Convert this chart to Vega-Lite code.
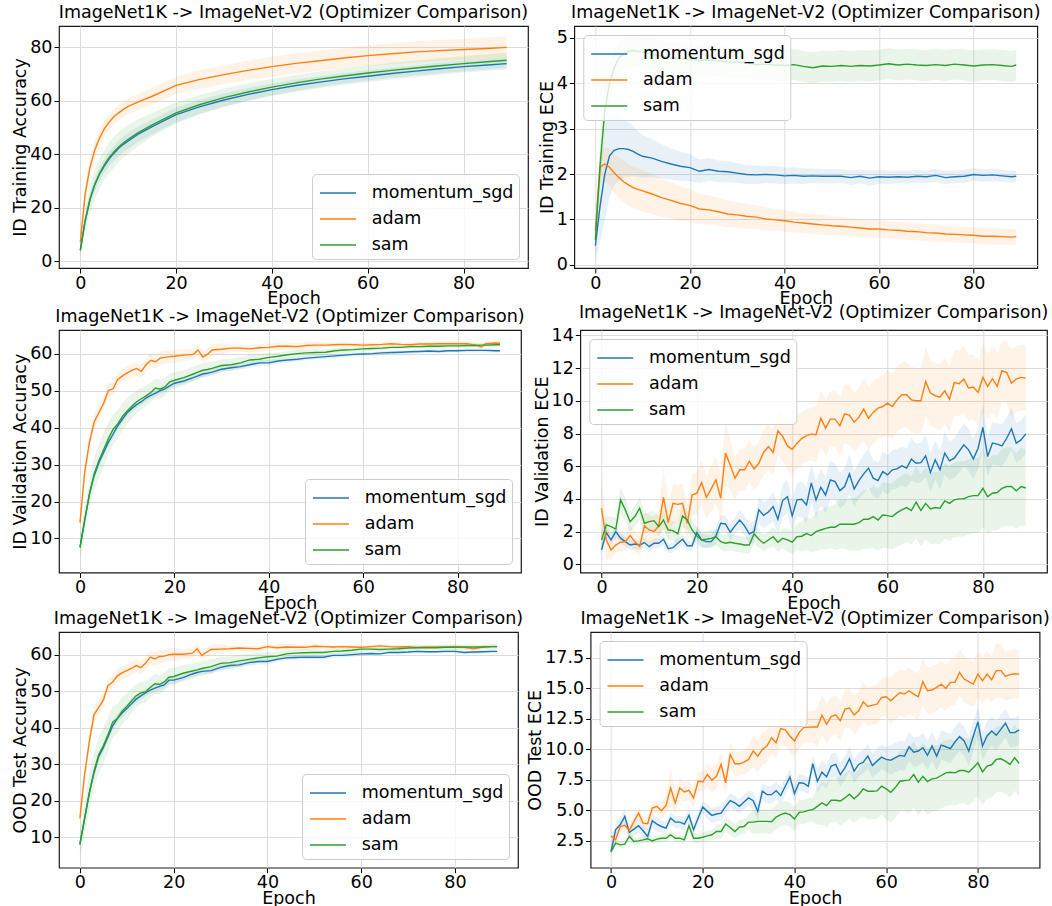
{
"$schema":"https://vega.github.io/schema/vega-lite/v6.json",
"background":"white",
"padding":{"left":11,"top":2,"right":0,"bottom":0},
"config":{
"font":"DejaVu Sans",
"view":{"stroke":"#1a1a1a","strokeWidth":1.2},
"axis":{"domain":false,"grid":true,"gridColor":"#dddddd","gridWidth":1,"tickColor":"#000","tickSize":5,"tickWidth":1,"labelFontSize":17.5,"labelColor":"#000","labelFont":"DejaVu Sans","titleFont":"DejaVu Sans","titleFontSize":17.5,"titleFontWeight":"normal","titleColor":"#000","titlePadding":0,"labelPadding":2,"labelOverlap":false},
"axisX":{"labelPadding":1,"labelFlush":false,"titlePadding":-2},
"axisY":{"labelFlush":false},
"title":{"fontSize":17.5,"fontWeight":"normal","font":"DejaVu Sans","color":"#000","offset":5,"frame":"group"},
"legend":{"labelFontSize":17.5,"labelFont":"DejaVu Sans","labelColor":"#000","labelLimit":400,"symbolType":"M-0.85,0H1.92","symbolSize":676,"symbolStrokeWidth":1.5,"labelOffset":26.7,"rowPadding":3,"padding":5,"fillColor":"rgba(255,255,255,0.8)","strokeColor":"#cccccc","cornerRadius":4,"offset":9},
"line":{"strokeWidth":1.4,"clip":true},
"area":{"opacity":0.1,"clip":true}
},
"datasets":{
"d1":[
{"e":0,"m":4,"m0":3,"m1":5,"a":7,"a0":5,"a1":9,"s":4,"s0":2,"s1":6},
{"e":1,"m":15,"m0":13,"m1":17,"a":25,"a0":22,"a1":28,"s":15,"s0":11,"s1":19},
{"e":2,"m":23,"m0":20.5,"m1":25.5,"a":35,"a0":32,"a1":38,"s":23,"s0":18,"s1":28},
{"e":3,"m":28.5,"m0":26,"m1":31,"a":41.5,"a0":38,"a1":45,"s":28.7,"s0":23,"s1":34},
{"e":4,"m":32.5,"m0":30,"m1":35,"a":46,"a0":43,"a1":49,"s":32.8,"s0":27,"s1":38.5},
{"e":5,"m":35.5,"m0":33,"m1":38,"a":49.5,"a0":46.5,"a1":52.5,"s":36,"s0":30.5,"s1":41.5},
{"e":6,"m":38.2,"m0":35.5,"m1":41,"a":52,"a0":49,"a1":55,"s":38.7,"s0":33,"s1":44.5},
{"e":7,"m":40.3,"m0":37.5,"m1":43,"a":54,"a0":51,"a1":57,"s":40.8,"s0":35,"s1":46.5},
{"e":8,"m":42.2,"m0":39.3,"m1":45,"a":55.5,"a0":52.5,"a1":58.5,"s":42.7,"s0":37,"s1":48.4},
{"e":9,"m":43.7,"m0":40.8,"m1":46.6,"a":56.8,"a0":53.8,"a1":59.8,"s":44.3,"s0":38.8,"s1":49.8},
{"e":10,"m":45,"m0":42,"m1":48,"a":57.9,"a0":55,"a1":61,"s":45.6,"s0":40.2,"s1":51},
{"e":12,"m":47.4,"m0":44.5,"m1":50.3,"a":59.5,"a0":56.5,"a1":62.5,"s":48,"s0":43,"s1":53},
{"e":15,"m":50.3,"m0":47.5,"m1":53,"a":61.7,"a0":58.5,"a1":65,"s":51,"s0":46.5,"s1":55.5},
{"e":20,"m":54.8,"m0":52,"m1":57.5,"a":65.8,"a0":62.5,"a1":69,"s":55.5,"s0":51.5,"s1":59.5},
{"e":25,"m":57.8,"m0":55.2,"m1":60.4,"a":68,"a0":64.5,"a1":71.5,"s":58.6,"s0":55,"s1":62.2},
{"e":30,"m":60.3,"m0":57.8,"m1":62.8,"a":69.8,"a0":66.3,"a1":73.3,"s":61.2,"s0":57.8,"s1":64.6},
{"e":35,"m":62.4,"m0":60,"m1":64.8,"a":71.4,"a0":67.8,"a1":75,"s":63.3,"s0":60,"s1":66.6},
{"e":40,"m":64.2,"m0":61.9,"m1":66.5,"a":72.8,"a0":69,"a1":76.5,"s":65.1,"s0":62,"s1":68.2},
{"e":45,"m":65.7,"m0":63.4,"m1":68,"a":74,"a0":70.2,"a1":77.8,"s":66.7,"s0":63.7,"s1":69.7},
{"e":50,"m":67,"m0":64.8,"m1":69.2,"a":75,"a0":71.2,"a1":78.8,"s":68.1,"s0":65.2,"s1":71},
{"e":55,"m":68.2,"m0":66,"m1":70.4,"a":76,"a0":72.2,"a1":79.8,"s":69.3,"s0":66.5,"s1":72.1},
{"e":60,"m":69.2,"m0":67,"m1":71.4,"a":76.9,"a0":73,"a1":80.8,"s":70.4,"s0":67.6,"s1":73.2},
{"e":65,"m":70.2,"m0":68,"m1":72.4,"a":77.6,"a0":73.7,"a1":81.5,"s":71.4,"s0":68.6,"s1":74.2},
{"e":70,"m":71.1,"m0":68.9,"m1":73.3,"a":78.3,"a0":74.3,"a1":82.3,"s":72.3,"s0":69.5,"s1":75.1},
{"e":75,"m":72,"m0":69.8,"m1":74.2,"a":78.8,"a0":74.8,"a1":82.8,"s":73.1,"s0":70.3,"s1":75.9},
{"e":80,"m":72.8,"m0":70.6,"m1":75,"a":79.2,"a0":75.2,"a1":83.2,"s":73.9,"s0":71.1,"s1":76.7},
{"e":85,"m":73.4,"m0":71.2,"m1":75.6,"a":79.6,"a0":75.6,"a1":83.6,"s":74.6,"s0":71.8,"s1":77.4},
{"e":89,"m":73.9,"m0":71.7,"m1":76.1,"a":80,"a0":76,"a1":84,"s":75.2,"s0":72.4,"s1":78}
],
"d2":[
{"e":0,"m":0.42,"m0":0.12,"m1":0.72,"a":0.75,"a0":0.5,"a1":1.0,"s":0.55,"s0":0.3,"s1":0.8},
{"e":1,"m":1.3,"m0":0.5,"m1":2.1,"a":2.15,"a0":1.8,"a1":2.5,"s":2.2,"s0":1.7,"s1":2.7},
{"e":2,"m":2.0,"m0":1.0,"m1":3.0,"a":2.22,"a0":1.85,"a1":2.6,"s":3.4,"s0":2.9,"s1":3.9},
{"e":3,"m":2.4,"m0":1.5,"m1":3.3,"a":2.15,"a0":1.75,"a1":2.55,"s":4.0,"s0":3.55,"s1":4.45},
{"e":4,"m":2.52,"m0":1.75,"m1":3.3,"a":2.02,"a0":1.6,"a1":2.45,"s":4.35,"s0":3.95,"s1":4.75},
{"e":5,"m":2.56,"m0":1.86,"m1":3.26,"a":1.92,"a0":1.47,"a1":2.37,"s":4.55,"s0":4.17,"s1":4.93},
{"e":6,"m":2.56,"m0":1.92,"m1":3.2,"a":1.83,"a0":1.37,"a1":2.29,"s":4.65,"s0":4.3,"s1":5.0},
{"e":7,"m":2.54,"m0":1.94,"m1":3.14,"a":1.76,"a0":1.3,"a1":2.22,"s":4.7,"s0":4.36,"s1":5.04},
{"e":8,"m":2.5,"m0":1.95,"m1":3.05,"a":1.7,"a0":1.24,"a1":2.16,"s":4.72,"s0":4.38,"s1":5.06},
{"e":9,"m":2.44,"m0":1.94,"m1":2.94,"a":1.66,"a0":1.2,"a1":2.12,"s":4.7,"s0":4.36,"s1":5.04},
{"e":10,"m":2.39,"m0":1.92,"m1":2.86,"a":1.63,"a0":1.17,"a1":2.09,"s":4.68,"s0":4.34,"s1":5.02},
{"e":12,"m":2.35,"m0":1.93,"m1":2.77,"a":1.56,"a0":1.12,"a1":2.0,"s":4.64,"s0":4.3,"s1":4.98},
{"e":14,"m":2.28,"m0":1.9,"m1":2.66,"a":1.48,"a0":1.06,"a1":1.9,"s":4.6,"s0":4.26,"s1":4.94},
{"e":16,"m":2.22,"m0":1.88,"m1":2.56,"a":1.42,"a0":1.02,"a1":1.82,"s":4.56,"s0":4.22,"s1":4.9},
{"e":18,"m":2.17,"m0":1.85,"m1":2.49,"a":1.35,"a0":0.97,"a1":1.73,"s":4.54,"s0":4.2,"s1":4.88},
{"e":20,"m":2.14,"m0":1.84,"m1":2.44,"a":1.31,"a0":0.95,"a1":1.67,"s":4.52,"s0":4.18,"s1":4.86},
{"e":22,"m":2.06,"m0":1.8,"m1":2.32,"a":1.23,"a0":0.9,"a1":1.56,"s":4.5,"s0":4.16,"s1":4.84},
{"e":24,"m":2.1,"m0":1.85,"m1":2.35,"a":1.21,"a0":0.89,"a1":1.53,"s":4.51,"s0":4.17,"s1":4.85},
{"e":26,"m":2.06,"m0":1.82,"m1":2.3,"a":1.17,"a0":0.86,"a1":1.48,"s":4.49,"s0":4.15,"s1":4.83},
{"e":28,"m":2.05,"m0":1.82,"m1":2.28,"a":1.12,"a0":0.83,"a1":1.41,"s":4.47,"s0":4.13,"s1":4.81},
{"e":30,"m":2.02,"m0":1.8,"m1":2.24,"a":1.1,"a0":0.82,"a1":1.38,"s":4.46,"s0":4.12,"s1":4.8},
{"e":32,"m":1.99,"m0":1.78,"m1":2.2,"a":1.07,"a0":0.8,"a1":1.34,"s":4.45,"s0":4.11,"s1":4.79},
{"e":34,"m":1.98,"m0":1.78,"m1":2.18,"a":1.05,"a0":0.79,"a1":1.31,"s":4.41,"s0":4.07,"s1":4.75},
{"e":36,"m":1.99,"m0":1.8,"m1":2.18,"a":1.01,"a0":0.76,"a1":1.26,"s":4.42,"s0":4.08,"s1":4.76},
{"e":38,"m":1.98,"m0":1.79,"m1":2.17,"a":0.99,"a0":0.75,"a1":1.23,"s":4.4,"s0":4.06,"s1":4.74},
{"e":40,"m":1.96,"m0":1.78,"m1":2.14,"a":0.97,"a0":0.73,"a1":1.21,"s":4.39,"s0":4.05,"s1":4.73},
{"e":42,"m":1.97,"m0":1.79,"m1":2.15,"a":0.94,"a0":0.71,"a1":1.17,"s":4.41,"s0":4.07,"s1":4.75},
{"e":44,"m":1.95,"m0":1.78,"m1":2.12,"a":0.92,"a0":0.7,"a1":1.14,"s":4.37,"s0":4.03,"s1":4.71},
{"e":46,"m":1.96,"m0":1.8,"m1":2.12,"a":0.9,"a0":0.68,"a1":1.12,"s":4.34,"s0":4.0,"s1":4.68},
{"e":48,"m":1.95,"m0":1.79,"m1":2.11,"a":0.88,"a0":0.66,"a1":1.1,"s":4.38,"s0":4.04,"s1":4.72},
{"e":50,"m":1.95,"m0":1.79,"m1":2.11,"a":0.86,"a0":0.65,"a1":1.07,"s":4.37,"s0":4.03,"s1":4.71},
{"e":52,"m":1.95,"m0":1.8,"m1":2.1,"a":0.85,"a0":0.64,"a1":1.06,"s":4.39,"s0":4.05,"s1":4.73},
{"e":54,"m":1.92,"m0":1.76,"m1":2.08,"a":0.83,"a0":0.63,"a1":1.03,"s":4.37,"s0":4.03,"s1":4.71},
{"e":56,"m":1.95,"m0":1.8,"m1":2.1,"a":0.81,"a0":0.61,"a1":1.01,"s":4.39,"s0":4.05,"s1":4.73},
{"e":58,"m":1.91,"m0":1.74,"m1":2.08,"a":0.79,"a0":0.59,"a1":0.99,"s":4.38,"s0":4.04,"s1":4.72},
{"e":60,"m":1.94,"m0":1.79,"m1":2.09,"a":0.79,"a0":0.59,"a1":0.99,"s":4.4,"s0":4.06,"s1":4.74},
{"e":62,"m":1.93,"m0":1.78,"m1":2.08,"a":0.77,"a0":0.58,"a1":0.96,"s":4.43,"s0":4.09,"s1":4.77},
{"e":64,"m":1.94,"m0":1.8,"m1":2.08,"a":0.76,"a0":0.57,"a1":0.95,"s":4.4,"s0":4.06,"s1":4.74},
{"e":66,"m":1.93,"m0":1.79,"m1":2.07,"a":0.74,"a0":0.55,"a1":0.93,"s":4.42,"s0":4.08,"s1":4.76},
{"e":68,"m":1.95,"m0":1.81,"m1":2.09,"a":0.73,"a0":0.54,"a1":0.92,"s":4.4,"s0":4.06,"s1":4.74},
{"e":70,"m":1.94,"m0":1.8,"m1":2.08,"a":0.71,"a0":0.52,"a1":0.9,"s":4.39,"s0":4.05,"s1":4.73},
{"e":72,"m":1.97,"m0":1.83,"m1":2.11,"a":0.7,"a0":0.51,"a1":0.89,"s":4.41,"s0":4.07,"s1":4.75},
{"e":74,"m":1.92,"m0":1.78,"m1":2.06,"a":0.68,"a0":0.5,"a1":0.86,"s":4.39,"s0":4.05,"s1":4.73},
{"e":76,"m":1.94,"m0":1.8,"m1":2.08,"a":0.67,"a0":0.49,"a1":0.85,"s":4.42,"s0":4.08,"s1":4.76},
{"e":78,"m":1.95,"m0":1.81,"m1":2.09,"a":0.66,"a0":0.48,"a1":0.84,"s":4.4,"s0":4.06,"s1":4.74},
{"e":80,"m":1.99,"m0":1.85,"m1":2.13,"a":0.65,"a0":0.47,"a1":0.83,"s":4.38,"s0":4.04,"s1":4.72},
{"e":82,"m":1.97,"m0":1.83,"m1":2.11,"a":0.63,"a0":0.45,"a1":0.81,"s":4.4,"s0":4.06,"s1":4.74},
{"e":84,"m":1.98,"m0":1.84,"m1":2.12,"a":0.63,"a0":0.45,"a1":0.81,"s":4.41,"s0":4.07,"s1":4.75},
{"e":86,"m":1.96,"m0":1.83,"m1":2.09,"a":0.62,"a0":0.44,"a1":0.8,"s":4.39,"s0":4.05,"s1":4.73},
{"e":88,"m":1.94,"m0":1.81,"m1":2.07,"a":0.61,"a0":0.43,"a1":0.79,"s":4.37,"s0":4.03,"s1":4.71},
{"e":89,"m":1.95,"m0":1.82,"m1":2.08,"a":0.62,"a0":0.44,"a1":0.8,"s":4.4,"s0":4.06,"s1":4.74}
],
"d3":[
{"e":0,"m":7.6,"m0":6.6,"m1":8.6,"a":14.3,"a0":12.8,"a1":15.8,"s":7.6,"s0":3.8,"s1":10.6},
{"e":1,"m":15,"m0":14,"m1":16,"a":28,"a0":26,"a1":30,"s":15,"s0":11.5,"s1":18.5},
{"e":2,"m":22,"m0":21,"m1":23,"a":36,"a0":34,"a1":38,"s":22,"s0":18,"s1":26},
{"e":3,"m":27,"m0":26,"m1":28,"a":41.5,"a0":39.5,"a1":43.5,"s":27.5,"s0":23,"s1":32},
{"e":4,"m":30.5,"m0":29.5,"m1":31.5,"a":44,"a0":42,"a1":46,"s":31,"s0":26.5,"s1":35.5},
{"e":5,"m":33.3,"m0":32.3,"m1":34.3,"a":46.5,"a0":44.7,"a1":48.3,"s":34,"s0":29.5,"s1":38.5},
{"e":6,"m":36,"m0":35,"m1":37,"a":50,"a0":48.2,"a1":51.8,"s":37,"s0":32.7,"s1":41.3},
{"e":7,"m":38.2,"m0":37.2,"m1":39.2,"a":50.5,"a0":48.7,"a1":52.3,"s":39.5,"s0":35.4,"s1":43.6},
{"e":8,"m":40.5,"m0":39.5,"m1":41.5,"a":53,"a0":51.2,"a1":54.8,"s":41,"s0":37.1,"s1":44.9},
{"e":9,"m":42.3,"m0":41.3,"m1":43.3,"a":54,"a0":52.2,"a1":55.8,"s":43,"s0":39.3,"s1":46.7},
{"e":10,"m":44,"m0":43,"m1":45,"a":54.8,"a0":53,"a1":56.6,"s":44.5,"s0":41,"s1":48},
{"e":11,"m":45.2,"m0":44.3,"m1":46.1,"a":55.5,"a0":53.7,"a1":57.3,"s":45.8,"s0":42.5,"s1":49.1},
{"e":12,"m":46.2,"m0":45.3,"m1":47.1,"a":56,"a0":54.2,"a1":57.8,"s":47,"s0":43.9,"s1":50.1},
{"e":13,"m":47,"m0":46.1,"m1":47.9,"a":55.2,"a0":53.4,"a1":57,"s":47.8,"s0":44.9,"s1":50.7},
{"e":14,"m":48,"m0":47.1,"m1":48.9,"a":57,"a0":55.2,"a1":58.8,"s":48.6,"s0":45.8,"s1":51.4},
{"e":15,"m":48.7,"m0":47.8,"m1":49.6,"a":58.2,"a0":56.4,"a1":60,"s":49.5,"s0":46.8,"s1":52.2},
{"e":16,"m":49.3,"m0":48.4,"m1":50.2,"a":57.8,"a0":56,"a1":59.6,"s":50.7,"s0":48.1,"s1":53.3},
{"e":17,"m":50,"m0":49.1,"m1":50.9,"a":58.8,"a0":57,"a1":60.6,"s":50.4,"s0":47.9,"s1":52.9},
{"e":18,"m":50.5,"m0":49.6,"m1":51.4,"a":59,"a0":57.2,"a1":60.8,"s":51,"s0":48.6,"s1":53.4},
{"e":19,"m":51.3,"m0":50.4,"m1":52.2,"a":59.2,"a0":57.4,"a1":61,"s":52.4,"s0":50.1,"s1":54.7},
{"e":20,"m":52,"m0":51.1,"m1":52.9,"a":59.3,"a0":57.5,"a1":61.1,"s":52.8,"s0":50.6,"s1":55},
{"e":22,"m":52.6,"m0":51.8,"m1":53.4,"a":59.6,"a0":58.1,"a1":61.1,"s":53.5,"s0":51.4,"s1":55.6},
{"e":24,"m":53.5,"m0":52.7,"m1":54.3,"a":59.8,"a0":58.3,"a1":61.3,"s":54.5,"s0":52.5,"s1":56.5},
{"e":25,"m":54,"m0":53.2,"m1":54.8,"a":61,"a0":59.5,"a1":62.5,"s":55,"s0":53,"s1":57},
{"e":26,"m":54.5,"m0":53.7,"m1":55.3,"a":59.1,"a0":57.6,"a1":60.6,"s":55.5,"s0":53.6,"s1":57.4},
{"e":27,"m":54.7,"m0":53.9,"m1":55.5,"a":59.8,"a0":58.3,"a1":61.3,"s":55.7,"s0":53.8,"s1":57.6},
{"e":28,"m":55,"m0":54.2,"m1":55.8,"a":61,"a0":59.5,"a1":62.5,"s":56,"s0":54.2,"s1":57.8},
{"e":30,"m":55.8,"m0":55,"m1":56.6,"a":61.2,"a0":59.7,"a1":62.7,"s":56.8,"s0":55.1,"s1":58.5},
{"e":32,"m":56.2,"m0":55.4,"m1":57,"a":61.5,"a0":60.5,"a1":62.5,"s":57,"s0":55.4,"s1":58.6},
{"e":34,"m":56.5,"m0":55.7,"m1":57.3,"a":61.5,"a0":60.5,"a1":62.5,"s":57.5,"s0":56,"s1":59},
{"e":36,"m":57,"m0":56.2,"m1":57.8,"a":61.3,"a0":60.3,"a1":62.3,"s":58.3,"s0":56.9,"s1":59.7},
{"e":38,"m":57.5,"m0":56.7,"m1":58.3,"a":61.6,"a0":60.6,"a1":62.6,"s":58.5,"s0":57.2,"s1":59.8},
{"e":40,"m":57.5,"m0":56.7,"m1":58.3,"a":61.7,"a0":60.7,"a1":62.7,"s":59,"s0":57.8,"s1":60.2},
{"e":42,"m":58,"m0":57.4,"m1":58.6,"a":62,"a0":61,"a1":63,"s":59.3,"s0":58.2,"s1":60.4},
{"e":44,"m":58.3,"m0":57.7,"m1":58.9,"a":62,"a0":61,"a1":63,"s":59.7,"s0":58.7,"s1":60.7},
{"e":46,"m":58.5,"m0":57.9,"m1":59.1,"a":61.9,"a0":60.9,"a1":62.9,"s":60,"s0":59,"s1":61},
{"e":48,"m":58.8,"m0":58.2,"m1":59.4,"a":62.2,"a0":61.2,"a1":63.2,"s":60.2,"s0":59.3,"s1":61.1},
{"e":50,"m":59,"m0":58.4,"m1":59.6,"a":62.3,"a0":61.3,"a1":63.3,"s":60.3,"s0":59.4,"s1":61.2},
{"e":52,"m":59.2,"m0":58.6,"m1":59.8,"a":62.3,"a0":61.7,"a1":62.9,"s":60.4,"s0":59.6,"s1":61.2},
{"e":54,"m":59.4,"m0":58.8,"m1":60,"a":62.4,"a0":61.8,"a1":63,"s":60.8,"s0":60,"s1":61.6},
{"e":56,"m":59.6,"m0":59,"m1":60.2,"a":62.5,"a0":61.9,"a1":63.1,"s":61,"s0":60.2,"s1":61.8},
{"e":58,"m":59.8,"m0":59.2,"m1":60.4,"a":62.4,"a0":61.8,"a1":63,"s":61.1,"s0":60.4,"s1":61.8},
{"e":60,"m":59.9,"m0":59.3,"m1":60.5,"a":62.3,"a0":61.7,"a1":62.9,"s":61.3,"s0":60.6,"s1":62},
{"e":62,"m":60,"m0":59.5,"m1":60.5,"a":62.4,"a0":61.8,"a1":63,"s":61.4,"s0":60.8,"s1":62},
{"e":64,"m":60.2,"m0":59.7,"m1":60.7,"a":62.5,"a0":61.9,"a1":63.1,"s":61.5,"s0":60.9,"s1":62.1},
{"e":66,"m":60.3,"m0":59.8,"m1":60.8,"a":62.7,"a0":62.1,"a1":63.3,"s":61.7,"s0":61.1,"s1":62.3},
{"e":68,"m":60.4,"m0":59.9,"m1":60.9,"a":62.5,"a0":61.9,"a1":63.1,"s":61.7,"s0":61.1,"s1":62.3},
{"e":70,"m":60.5,"m0":60,"m1":61,"a":62.4,"a0":61.8,"a1":63,"s":61.9,"s0":61.3,"s1":62.5},
{"e":72,"m":60.6,"m0":60.1,"m1":61.1,"a":62.6,"a0":62,"a1":63.2,"s":61.9,"s0":61.3,"s1":62.5},
{"e":74,"m":60.7,"m0":60.2,"m1":61.2,"a":62.6,"a0":62,"a1":63.2,"s":62,"s0":61.4,"s1":62.6},
{"e":76,"m":60.6,"m0":60.1,"m1":61.1,"a":62.7,"a0":62.1,"a1":63.3,"s":62,"s0":61.4,"s1":62.6},
{"e":78,"m":60.8,"m0":60.3,"m1":61.3,"a":62.7,"a0":62.1,"a1":63.3,"s":62.1,"s0":61.5,"s1":62.7},
{"e":80,"m":60.8,"m0":60.3,"m1":61.3,"a":62.7,"a0":62.1,"a1":63.3,"s":62.1,"s0":61.5,"s1":62.7},
{"e":82,"m":60.9,"m0":60.4,"m1":61.4,"a":62.7,"a0":62.1,"a1":63.3,"s":62.2,"s0":61.6,"s1":62.8},
{"e":84,"m":60.9,"m0":60.4,"m1":61.4,"a":62.3,"a0":61.7,"a1":62.9,"s":62.2,"s0":61.6,"s1":62.8},
{"e":85,"m":60.9,"m0":60.4,"m1":61.4,"a":61.8,"a0":61.2,"a1":62.4,"s":62.3,"s0":61.7,"s1":62.9},
{"e":86,"m":60.9,"m0":60.4,"m1":61.4,"a":62.7,"a0":62.1,"a1":63.3,"s":62.3,"s0":61.7,"s1":62.9},
{"e":88,"m":60.8,"m0":60.3,"m1":61.3,"a":62.9,"a0":62.3,"a1":63.5,"s":62.4,"s0":61.8,"s1":63},
{"e":89,"m":60.8,"m0":60.3,"m1":61.3,"a":62.8,"a0":62.2,"a1":63.4,"s":62.4,"s0":61.8,"s1":63}
],
"d4":[
{"e":0,"m":0.88,"m0":0.58,"m1":1.18,"a":3.43,"a0":1.43,"a1":5.43,"s":1.49,"s0":0.89,"s1":2.09},
{"e":1,"m":1.94,"m0":1.59,"m1":2.29,"a":1.49,"a0":0.29,"a1":2.69,"s":2.41,"s0":1.81,"s1":3.01},
{"e":2,"m":1.49,"m0":1.19,"m1":1.79,"a":0.88,"a0":0.28,"a1":1.48,"s":2.31,"s0":1.71,"s1":2.91},
{"e":3,"m":2.0,"m0":1.65,"m1":2.35,"a":1.18,"a0":0.68,"a1":1.68,"s":2.16,"s0":1.46,"s1":2.86},
{"e":4,"m":1.6,"m0":1.3,"m1":1.9,"a":1.35,"a0":0.85,"a1":1.85,"s":3.94,"s0":3.14,"s1":4.74},
{"e":5,"m":1.39,"m0":1.09,"m1":1.69,"a":1.39,"a0":0.79,"a1":1.99,"s":3.33,"s0":2.63,"s1":4.03},
{"e":6,"m":1.18,"m0":0.88,"m1":1.48,"a":1.76,"a0":1.16,"a1":2.36,"s":2.61,"s0":2.01,"s1":3.21},
{"e":7,"m":1.24,"m0":0.94,"m1":1.54,"a":1.39,"a0":0.79,"a1":1.99,"s":2.92,"s0":2.32,"s1":3.52},
{"e":8,"m":1.18,"m0":0.88,"m1":1.48,"a":1.08,"a0":0.48,"a1":1.68,"s":3.43,"s0":2.73,"s1":4.13},
{"e":9,"m":1.33,"m0":1.03,"m1":1.63,"a":2.35,"a0":1.45,"a1":3.25,"s":2.51,"s0":1.91,"s1":3.11},
{"e":10,"m":1.08,"m0":0.78,"m1":1.38,"a":2.1,"a0":1.2,"a1":3.0,"s":2.61,"s0":2.01,"s1":3.21},
{"e":11,"m":1.29,"m0":0.99,"m1":1.59,"a":2.0,"a0":1.1,"a1":2.9,"s":2.67,"s0":2.07,"s1":3.27},
{"e":12,"m":1.29,"m0":0.99,"m1":1.59,"a":2.35,"a0":1.35,"a1":3.35,"s":2.31,"s0":1.71,"s1":2.91},
{"e":13,"m":1.53,"m0":1.18,"m1":1.88,"a":4.1,"a0":2.3,"a1":5.9,"s":2.71,"s0":2.11,"s1":3.31},
{"e":14,"m":0.96,"m0":0.66,"m1":1.26,"a":2.55,"a0":1.55,"a1":3.55,"s":2.1,"s0":1.5,"s1":2.7},
{"e":15,"m":1.02,"m0":0.72,"m1":1.32,"a":3.73,"a0":2.53,"a1":4.93,"s":2.06,"s0":1.46,"s1":2.66},
{"e":16,"m":1.29,"m0":0.99,"m1":1.59,"a":3.67,"a0":2.47,"a1":4.87,"s":1.86,"s0":1.26,"s1":2.46},
{"e":17,"m":1.53,"m0":1.18,"m1":1.88,"a":3.73,"a0":2.53,"a1":4.93,"s":2.96,"s0":2.26,"s1":3.66},
{"e":18,"m":1.14,"m0":0.84,"m1":1.44,"a":2.51,"a0":1.41,"a1":3.61,"s":2.71,"s0":2.11,"s1":3.31},
{"e":19,"m":1.14,"m0":0.84,"m1":1.44,"a":4.24,"a0":2.94,"a1":5.54,"s":2.1,"s0":1.5,"s1":2.7},
{"e":20,"m":1.94,"m0":1.54,"m1":2.34,"a":4.35,"a0":3.05,"a1":5.65,"s":1.73,"s0":1.23,"s1":2.23},
{"e":21,"m":1.49,"m0":1.09,"m1":1.89,"a":5.0,"a0":3.6,"a1":6.4,"s":1.49,"s0":0.99,"s1":1.99},
{"e":22,"m":1.39,"m0":0.99,"m1":1.79,"a":4.1,"a0":2.8,"a1":5.4,"s":1.53,"s0":1.03,"s1":2.03},
{"e":23,"m":1.39,"m0":0.99,"m1":1.79,"a":4.61,"a0":3.21,"a1":6.01,"s":1.59,"s0":1.09,"s1":2.09},
{"e":24,"m":1.73,"m0":1.23,"m1":2.23,"a":5.16,"a0":3.76,"a1":6.56,"s":1.69,"s0":1.19,"s1":2.19},
{"e":25,"m":2.51,"m0":2.01,"m1":3.01,"a":4.04,"a0":2.64,"a1":5.44,"s":1.39,"s0":0.89,"s1":1.89},
{"e":26,"m":2.47,"m0":1.97,"m1":2.97,"a":6.8,"a0":4.8,"a1":8.8,"s":1.29,"s0":0.79,"s1":1.79},
{"e":27,"m":1.96,"m0":1.46,"m1":2.46,"a":6.08,"a0":4.58,"a1":7.58,"s":1.35,"s0":0.85,"s1":1.85},
{"e":28,"m":2.35,"m0":1.85,"m1":2.85,"a":5.27,"a0":3.97,"a1":6.57,"s":1.29,"s0":0.79,"s1":1.79},
{"e":29,"m":2.71,"m0":2.11,"m1":3.31,"a":5.78,"a0":4.48,"a1":7.08,"s":1.24,"s0":0.74,"s1":1.74},
{"e":30,"m":2.35,"m0":1.75,"m1":2.95,"a":5.78,"a0":4.48,"a1":7.08,"s":1.18,"s0":0.68,"s1":1.68},
{"e":31,"m":1.86,"m0":1.26,"m1":2.46,"a":6.29,"a0":4.99,"a1":7.59,"s":1.18,"s0":0.68,"s1":1.68},
{"e":32,"m":2.0,"m0":1.3,"m1":2.7,"a":5.84,"a0":4.54,"a1":7.14,"s":1.86,"s0":1.26,"s1":2.46},
{"e":33,"m":3.33,"m0":2.53,"m1":4.13,"a":6.18,"a0":4.88,"a1":7.48,"s":1.53,"s0":1.03,"s1":2.03},
{"e":34,"m":3.0,"m0":2.2,"m1":3.8,"a":6.84,"a0":5.44,"a1":8.24,"s":1.29,"s0":0.79,"s1":1.79},
{"e":35,"m":3.2,"m0":2.4,"m1":4.0,"a":7.2,"a0":5.8,"a1":8.6,"s":1.49,"s0":0.99,"s1":1.99},
{"e":36,"m":3.53,"m0":2.63,"m1":4.43,"a":6.84,"a0":5.44,"a1":8.24,"s":1.69,"s0":1.09,"s1":2.29},
{"e":37,"m":2.76,"m0":1.86,"m1":3.66,"a":8.16,"a0":6.66,"a1":9.66,"s":1.35,"s0":0.75,"s1":1.95},
{"e":38,"m":3.9,"m0":2.9,"m1":4.9,"a":7.82,"a0":6.32,"a1":9.32,"s":1.59,"s0":0.99,"s1":2.19},
{"e":39,"m":4.14,"m0":3.14,"m1":5.14,"a":7.24,"a0":5.74,"a1":8.74,"s":1.49,"s0":0.79,"s1":2.19},
{"e":40,"m":2.96,"m0":1.96,"m1":3.96,"a":7.04,"a0":5.54,"a1":8.54,"s":1.35,"s0":0.65,"s1":2.05},
{"e":41,"m":3.94,"m0":2.94,"m1":4.94,"a":7.41,"a0":5.81,"a1":9.01,"s":1.69,"s0":0.89,"s1":2.49},
{"e":42,"m":3.98,"m0":2.88,"m1":5.08,"a":7.69,"a0":6.09,"a1":9.29,"s":1.72,"s0":0.82,"s1":2.62},
{"e":43,"m":3.63,"m0":2.53,"m1":4.73,"a":7.87,"a0":6.27,"a1":9.47,"s":1.88,"s0":0.88,"s1":2.88},
{"e":44,"m":4.98,"m0":3.78,"m1":6.18,"a":7.96,"a0":6.36,"a1":9.56,"s":1.76,"s0":0.76,"s1":2.76},
{"e":45,"m":3.94,"m0":2.84,"m1":5.04,"a":7.92,"a0":6.22,"a1":9.62,"s":2.0,"s0":0.8,"s1":3.2},
{"e":46,"m":4.71,"m0":3.61,"m1":5.81,"a":8.94,"a0":7.24,"a1":10.64,"s":2.1,"s0":0.9,"s1":3.3},
{"e":47,"m":4.24,"m0":3.14,"m1":5.34,"a":8.33,"a0":6.63,"a1":10.03,"s":2.2,"s0":0.9,"s1":3.5},
{"e":48,"m":5.16,"m0":3.96,"m1":6.36,"a":8.88,"a0":7.18,"a1":10.58,"s":2.27,"s0":0.97,"s1":3.57},
{"e":49,"m":5.06,"m0":3.96,"m1":6.16,"a":8.88,"a0":7.18,"a1":10.58,"s":2.27,"s0":0.87,"s1":3.67},
{"e":50,"m":4.51,"m0":3.41,"m1":5.61,"a":8.47,"a0":6.67,"a1":10.27,"s":2.45,"s0":0.95,"s1":3.95},
{"e":51,"m":4.76,"m0":3.66,"m1":5.86,"a":9.2,"a0":7.4,"a1":11.0,"s":2.45,"s0":0.95,"s1":3.95},
{"e":52,"m":5.53,"m0":4.33,"m1":6.73,"a":9.12,"a0":7.32,"a1":10.92,"s":2.45,"s0":0.85,"s1":4.05},
{"e":53,"m":4.61,"m0":3.51,"m1":5.71,"a":8.69,"a0":6.89,"a1":10.49,"s":2.45,"s0":0.85,"s1":4.05},
{"e":54,"m":5.12,"m0":4.02,"m1":6.22,"a":9.0,"a0":7.2,"a1":10.8,"s":2.55,"s0":0.85,"s1":4.25},
{"e":55,"m":5.53,"m0":4.33,"m1":6.73,"a":9.49,"a0":7.59,"a1":11.39,"s":2.76,"s0":0.96,"s1":4.56},
{"e":56,"m":5.88,"m0":4.68,"m1":7.08,"a":8.94,"a0":7.04,"a1":10.84,"s":2.76,"s0":0.96,"s1":4.56},
{"e":57,"m":5.27,"m0":4.17,"m1":6.37,"a":9.29,"a0":7.39,"a1":11.19,"s":2.92,"s0":1.02,"s1":4.82},
{"e":58,"m":5.12,"m0":4.02,"m1":6.22,"a":9.55,"a0":7.65,"a1":11.45,"s":2.71,"s0":0.81,"s1":4.61},
{"e":59,"m":5.67,"m0":4.47,"m1":6.87,"a":9.65,"a0":7.75,"a1":11.55,"s":3.02,"s0":1.02,"s1":5.02},
{"e":60,"m":5.47,"m0":4.27,"m1":6.67,"a":9.86,"a0":7.86,"a1":11.86,"s":2.98,"s0":0.98,"s1":4.98},
{"e":61,"m":5.78,"m0":4.58,"m1":6.98,"a":9.65,"a0":7.65,"a1":11.65,"s":2.92,"s0":0.92,"s1":4.92},
{"e":62,"m":5.84,"m0":4.64,"m1":7.04,"a":10.06,"a0":8.06,"a1":12.06,"s":3.16,"s0":1.06,"s1":5.26},
{"e":63,"m":6.02,"m0":4.82,"m1":7.22,"a":10.37,"a0":8.37,"a1":12.37,"s":3.33,"s0":1.23,"s1":5.43},
{"e":64,"m":5.88,"m0":4.68,"m1":7.08,"a":10.37,"a0":8.37,"a1":12.37,"s":3.47,"s0":1.37,"s1":5.57},
{"e":65,"m":6.43,"m0":5.13,"m1":7.73,"a":10.06,"a0":8.06,"a1":12.06,"s":3.29,"s0":1.19,"s1":5.39},
{"e":66,"m":6.18,"m0":4.98,"m1":7.38,"a":10.0,"a0":8.0,"a1":12.0,"s":3.8,"s0":1.6,"s1":6.0},
{"e":67,"m":6.22,"m0":5.02,"m1":7.42,"a":10.0,"a0":8.0,"a1":12.0,"s":3.29,"s0":1.09,"s1":5.49},
{"e":68,"m":6.63,"m0":5.33,"m1":7.93,"a":11.18,"a0":9.08,"a1":13.28,"s":3.73,"s0":1.53,"s1":5.93},
{"e":69,"m":5.61,"m0":4.41,"m1":6.81,"a":10.47,"a0":8.47,"a1":12.47,"s":3.39,"s0":1.19,"s1":5.59},
{"e":70,"m":6.39,"m0":5.19,"m1":7.59,"a":10.31,"a0":8.31,"a1":12.31,"s":3.47,"s0":1.27,"s1":5.67},
{"e":71,"m":5.78,"m0":4.58,"m1":6.98,"a":10.22,"a0":8.22,"a1":12.22,"s":3.43,"s0":1.23,"s1":5.63},
{"e":72,"m":6.8,"m0":5.5,"m1":8.1,"a":10.61,"a0":8.61,"a1":12.61,"s":3.88,"s0":1.58,"s1":6.18},
{"e":73,"m":6.33,"m0":5.13,"m1":7.53,"a":10.1,"a0":8.1,"a1":12.1,"s":3.73,"s0":1.43,"s1":6.03},
{"e":74,"m":6.49,"m0":5.29,"m1":7.69,"a":11.12,"a0":9.12,"a1":13.12,"s":3.94,"s0":1.64,"s1":6.24},
{"e":75,"m":6.9,"m0":5.6,"m1":8.2,"a":11.04,"a0":9.04,"a1":13.04,"s":4.0,"s0":1.7,"s1":6.3},
{"e":76,"m":7.31,"m0":6.01,"m1":8.61,"a":11.33,"a0":9.33,"a1":13.33,"s":4.0,"s0":1.7,"s1":6.3},
{"e":77,"m":7.0,"m0":5.7,"m1":8.3,"a":10.78,"a0":8.78,"a1":12.78,"s":4.14,"s0":1.84,"s1":6.44},
{"e":78,"m":6.45,"m0":5.25,"m1":7.65,"a":10.84,"a0":8.84,"a1":12.84,"s":4.2,"s0":1.9,"s1":6.5},
{"e":79,"m":7.1,"m0":5.8,"m1":8.4,"a":10.51,"a0":8.51,"a1":12.51,"s":4.2,"s0":1.9,"s1":6.5},
{"e":80,"m":8.37,"m0":6.97,"m1":9.77,"a":11.43,"a0":9.33,"a1":13.53,"s":4.65,"s0":2.25,"s1":7.05},
{"e":81,"m":6.59,"m0":5.39,"m1":7.79,"a":10.88,"a0":8.88,"a1":12.88,"s":4.14,"s0":1.84,"s1":6.44},
{"e":82,"m":7.41,"m0":6.11,"m1":8.71,"a":11.35,"a0":9.35,"a1":13.35,"s":4.35,"s0":2.05,"s1":6.65},
{"e":83,"m":7.35,"m0":6.05,"m1":8.65,"a":10.88,"a0":8.88,"a1":12.88,"s":4.39,"s0":2.09,"s1":6.69},
{"e":84,"m":7.24,"m0":5.94,"m1":8.54,"a":11.84,"a0":10.04,"a1":13.64,"s":4.65,"s0":2.25,"s1":7.05},
{"e":85,"m":7.71,"m0":6.41,"m1":9.01,"a":11.73,"a0":9.83,"a1":13.63,"s":4.76,"s0":2.36,"s1":7.16},
{"e":86,"m":8.29,"m0":6.99,"m1":9.59,"a":11.08,"a0":8.98,"a1":13.18,"s":4.76,"s0":2.36,"s1":7.16},
{"e":87,"m":7.41,"m0":6.21,"m1":8.61,"a":11.33,"a0":9.33,"a1":13.33,"s":4.49,"s0":2.19,"s1":6.79},
{"e":88,"m":7.61,"m0":6.41,"m1":8.81,"a":11.43,"a0":9.43,"a1":13.43,"s":4.76,"s0":2.36,"s1":7.16},
{"e":89,"m":7.98,"m0":6.78,"m1":9.18,"a":11.39,"a0":9.39,"a1":13.39,"s":4.67,"s0":2.37,"s1":6.97}
],
"d5":[
{"e":0,"m":8,"m0":6.8,"m1":9.2,"a":15.1,"a0":13.6,"a1":16.6,"s":8,"s0":4.5,"s1":11.5},
{"e":1,"m":15,"m0":13.8,"m1":16.2,"a":27,"a0":25,"a1":29,"s":15,"s0":10.5,"s1":19.5},
{"e":2,"m":22,"m0":20.8,"m1":23.2,"a":36,"a0":34,"a1":38,"s":22,"s0":17,"s1":27},
{"e":3,"m":27.5,"m0":26.3,"m1":28.7,"a":43.5,"a0":41.5,"a1":45.5,"s":28,"s0":23,"s1":33},
{"e":4,"m":32,"m0":30.8,"m1":33.2,"a":45.5,"a0":43.5,"a1":47.5,"s":32.5,"s0":27.5,"s1":37.5},
{"e":5,"m":34.5,"m0":33.3,"m1":35.7,"a":47.5,"a0":45.5,"a1":49.5,"s":35,"s0":30,"s1":40},
{"e":6,"m":37.5,"m0":36.3,"m1":38.7,"a":51.5,"a0":49.7,"a1":53.3,"s":38,"s0":33.4,"s1":42.6},
{"e":7,"m":40.5,"m0":39.3,"m1":41.7,"a":52.5,"a0":50.7,"a1":54.3,"s":41.5,"s0":37.2,"s1":45.8},
{"e":8,"m":42.5,"m0":41.3,"m1":43.7,"a":54.2,"a0":52.4,"a1":56,"s":42.5,"s0":38.5,"s1":46.5},
{"e":9,"m":44,"m0":42.8,"m1":45.2,"a":55,"a0":53.2,"a1":56.8,"s":44.5,"s0":40.7,"s1":48.3},
{"e":10,"m":45.2,"m0":44,"m1":46.4,"a":55.6,"a0":53.8,"a1":57.4,"s":45.8,"s0":42.2,"s1":49.4},
{"e":11,"m":46.5,"m0":45.5,"m1":47.5,"a":56.2,"a0":54.4,"a1":58,"s":47.3,"s0":43.9,"s1":50.7},
{"e":12,"m":47.8,"m0":46.8,"m1":48.8,"a":57,"a0":55.2,"a1":58.8,"s":48.7,"s0":45.5,"s1":51.9},
{"e":13,"m":48.7,"m0":47.7,"m1":49.7,"a":56.4,"a0":54.6,"a1":58.2,"s":49.5,"s0":46.5,"s1":52.5},
{"e":14,"m":49.5,"m0":48.5,"m1":50.5,"a":57.6,"a0":55.8,"a1":59.4,"s":49.8,"s0":46.9,"s1":52.7},
{"e":15,"m":50.3,"m0":49.3,"m1":51.3,"a":59.3,"a0":57.5,"a1":61.1,"s":51,"s0":48.2,"s1":53.8},
{"e":16,"m":50.8,"m0":49.8,"m1":51.8,"a":58.8,"a0":57,"a1":60.6,"s":52,"s0":49.3,"s1":54.7},
{"e":17,"m":51.3,"m0":50.3,"m1":52.3,"a":59.5,"a0":57.7,"a1":61.3,"s":51.8,"s0":49.2,"s1":54.4},
{"e":18,"m":51.7,"m0":50.7,"m1":52.7,"a":59.6,"a0":57.8,"a1":61.4,"s":52.5,"s0":50,"s1":55},
{"e":19,"m":53,"m0":52,"m1":54,"a":60,"a0":58.2,"a1":61.8,"s":53.8,"s0":51.4,"s1":56.2},
{"e":20,"m":53,"m0":52,"m1":54,"a":60.1,"a0":58.3,"a1":61.9,"s":54,"s0":51.7,"s1":56.3},
{"e":22,"m":53.7,"m0":52.9,"m1":54.5,"a":60.1,"a0":58.7,"a1":61.5,"s":54.9,"s0":52.7,"s1":57.1},
{"e":24,"m":54.7,"m0":53.9,"m1":55.5,"a":60.4,"a0":59,"a1":61.8,"s":55.5,"s0":53.4,"s1":57.6},
{"e":25,"m":55.1,"m0":54.3,"m1":55.9,"a":61.6,"a0":60.2,"a1":63,"s":55.8,"s0":53.8,"s1":57.8},
{"e":26,"m":55.4,"m0":54.6,"m1":56.2,"a":59.8,"a0":58.4,"a1":61.2,"s":56.2,"s0":54.2,"s1":58.2},
{"e":28,"m":55.6,"m0":54.8,"m1":56.4,"a":61.4,"a0":60,"a1":62.8,"s":56.7,"s0":54.8,"s1":58.6},
{"e":30,"m":56.5,"m0":55.7,"m1":57.3,"a":61.5,"a0":60.1,"a1":62.9,"s":57.6,"s0":55.8,"s1":59.4},
{"e":32,"m":57,"m0":56.2,"m1":57.8,"a":61.6,"a0":60.8,"a1":62.4,"s":57.8,"s0":56.1,"s1":59.5},
{"e":34,"m":57.2,"m0":56.4,"m1":58,"a":61.8,"a0":61,"a1":62.6,"s":58.3,"s0":56.7,"s1":59.9},
{"e":36,"m":57.8,"m0":57,"m1":58.6,"a":61.7,"a0":60.9,"a1":62.5,"s":58.7,"s0":57.2,"s1":60.2},
{"e":38,"m":58.1,"m0":57.3,"m1":58.9,"a":61.6,"a0":60.8,"a1":62.4,"s":59.1,"s0":57.7,"s1":60.5},
{"e":40,"m":58.1,"m0":57.3,"m1":58.9,"a":62.2,"a0":61.4,"a1":63,"s":59.4,"s0":58.1,"s1":60.7},
{"e":42,"m":58.7,"m0":58.1,"m1":59.3,"a":61.9,"a0":61.1,"a1":62.7,"s":59.6,"s0":58.4,"s1":60.8},
{"e":44,"m":59.1,"m0":58.5,"m1":59.7,"a":62.1,"a0":61.3,"a1":62.9,"s":60.2,"s0":59.1,"s1":61.3},
{"e":46,"m":59.2,"m0":58.6,"m1":59.8,"a":62,"a0":61.2,"a1":62.8,"s":60.4,"s0":59.4,"s1":61.4},
{"e":48,"m":59.3,"m0":58.7,"m1":59.9,"a":62,"a0":61.2,"a1":62.8,"s":60.5,"s0":59.5,"s1":61.5},
{"e":50,"m":59.3,"m0":58.7,"m1":59.9,"a":62.3,"a0":61.5,"a1":63.1,"s":60.6,"s0":59.7,"s1":61.5},
{"e":52,"m":59.3,"m0":58.7,"m1":59.9,"a":62.2,"a0":61.7,"a1":62.7,"s":60.6,"s0":59.8,"s1":61.4},
{"e":54,"m":59.8,"m0":59.2,"m1":60.4,"a":62.1,"a0":61.6,"a1":62.6,"s":60.9,"s0":60.1,"s1":61.7},
{"e":56,"m":59.8,"m0":59.2,"m1":60.4,"a":62.2,"a0":61.7,"a1":62.7,"s":61,"s0":60.2,"s1":61.8},
{"e":58,"m":60,"m0":59.4,"m1":60.6,"a":62.1,"a0":61.6,"a1":62.6,"s":61.2,"s0":60.4,"s1":62},
{"e":60,"m":60.2,"m0":59.6,"m1":60.8,"a":62,"a0":61.5,"a1":62.5,"s":61.5,"s0":60.7,"s1":62.3},
{"e":62,"m":60.3,"m0":59.8,"m1":60.8,"a":62.2,"a0":61.7,"a1":62.7,"s":61.5,"s0":60.8,"s1":62.2},
{"e":64,"m":60.2,"m0":59.7,"m1":60.7,"a":62.4,"a0":61.9,"a1":62.9,"s":61.4,"s0":60.7,"s1":62.1},
{"e":66,"m":60.6,"m0":60.1,"m1":61.1,"a":62.2,"a0":61.7,"a1":62.7,"s":61.5,"s0":60.8,"s1":62.2},
{"e":68,"m":60.6,"m0":60.1,"m1":61.1,"a":62.1,"a0":61.6,"a1":62.6,"s":61.6,"s0":60.9,"s1":62.3},
{"e":70,"m":60.7,"m0":60.2,"m1":61.2,"a":62.2,"a0":61.7,"a1":62.7,"s":61.8,"s0":61.1,"s1":62.5},
{"e":72,"m":60.9,"m0":60.4,"m1":61.4,"a":62,"a0":61.5,"a1":62.5,"s":61.9,"s0":61.2,"s1":62.6},
{"e":74,"m":60.8,"m0":60.3,"m1":61.3,"a":62.1,"a0":61.6,"a1":62.6,"s":61.9,"s0":61.2,"s1":62.6},
{"e":76,"m":60.8,"m0":60.3,"m1":61.3,"a":62.1,"a0":61.6,"a1":62.6,"s":61.9,"s0":61.2,"s1":62.6},
{"e":78,"m":60.9,"m0":60.4,"m1":61.4,"a":62.1,"a0":61.6,"a1":62.6,"s":62,"s0":61.3,"s1":62.7},
{"e":80,"m":60.9,"m0":60.4,"m1":61.4,"a":62.2,"a0":61.7,"a1":62.7,"s":62,"s0":61.3,"s1":62.7},
{"e":82,"m":60.6,"m0":60.1,"m1":61.1,"a":62,"a0":61.5,"a1":62.5,"s":62.1,"s0":61.4,"s1":62.8},
{"e":84,"m":60.7,"m0":60.2,"m1":61.2,"a":61.6,"a0":61.1,"a1":62.1,"s":62.1,"s0":61.4,"s1":62.8},
{"e":86,"m":60.8,"m0":60.3,"m1":61.3,"a":62.1,"a0":61.6,"a1":62.6,"s":62.1,"s0":61.4,"s1":62.8},
{"e":88,"m":60.9,"m0":60.4,"m1":61.4,"a":62.2,"a0":61.7,"a1":62.7,"s":62.2,"s0":61.5,"s1":62.9},
{"e":89,"m":60.9,"m0":60.4,"m1":61.4,"a":62.2,"a0":61.7,"a1":62.7,"s":62.2,"s0":61.5,"s1":62.9}
],
"d6":[
{"e":0,"m":1.59,"m0":1.19,"m1":1.99,"a":2.88,"a0":2.38,"a1":3.38,"s":1.59,"s0":1.29,"s1":1.89},
{"e":1,"m":3.38,"m0":2.78,"m1":3.98,"a":2.55,"a0":2.05,"a1":3.05,"s":2.28,"s0":1.98,"s1":2.58},
{"e":2,"m":3.79,"m0":3.19,"m1":4.39,"a":3.65,"a0":3.15,"a1":4.15,"s":2.14,"s0":1.84,"s1":2.44},
{"e":3,"m":4.48,"m0":3.88,"m1":5.08,"a":3.74,"a0":3.24,"a1":4.24,"s":2.2,"s0":1.9,"s1":2.5},
{"e":4,"m":3.16,"m0":2.56,"m1":3.76,"a":3.32,"a0":2.82,"a1":3.82,"s":2.83,"s0":2.53,"s1":3.13},
{"e":5,"m":3.43,"m0":2.83,"m1":4.03,"a":4.07,"a0":3.57,"a1":4.57,"s":2.42,"s0":2.12,"s1":2.72},
{"e":6,"m":3.71,"m0":3.11,"m1":4.31,"a":4.75,"a0":4.25,"a1":5.25,"s":2.47,"s0":2.17,"s1":2.77},
{"e":7,"m":3.3,"m0":2.7,"m1":3.9,"a":3.93,"a0":3.43,"a1":4.43,"s":2.55,"s0":2.25,"s1":2.85},
{"e":8,"m":2.83,"m0":2.23,"m1":3.43,"a":3.87,"a0":3.37,"a1":4.37,"s":2.64,"s0":2.34,"s1":2.94},
{"e":9,"m":4.12,"m0":3.52,"m1":4.72,"a":5.16,"a0":4.66,"a1":5.66,"s":2.47,"s0":2.17,"s1":2.77},
{"e":10,"m":3.85,"m0":3.25,"m1":4.45,"a":5.3,"a0":4.8,"a1":5.8,"s":2.61,"s0":2.31,"s1":2.91},
{"e":11,"m":3.65,"m0":3.15,"m1":4.15,"a":4.94,"a0":4.24,"a1":5.64,"s":2.69,"s0":2.39,"s1":2.99},
{"e":12,"m":3.52,"m0":3.02,"m1":4.02,"a":5.38,"a0":4.68,"a1":6.08,"s":2.69,"s0":2.39,"s1":2.99},
{"e":13,"m":4.34,"m0":3.84,"m1":4.84,"a":6.81,"a0":5.31,"a1":8.31,"s":2.97,"s0":2.67,"s1":3.27},
{"e":14,"m":4.01,"m0":3.51,"m1":4.51,"a":5.58,"a0":4.78,"a1":6.38,"s":2.69,"s0":2.39,"s1":2.99},
{"e":15,"m":4.01,"m0":3.51,"m1":4.51,"a":6.81,"a0":6.01,"a1":7.61,"s":2.69,"s0":2.39,"s1":2.99},
{"e":16,"m":3.85,"m0":3.35,"m1":4.35,"a":6.48,"a0":5.68,"a1":7.28,"s":2.55,"s0":2.25,"s1":2.85},
{"e":17,"m":4.56,"m0":4.06,"m1":5.06,"a":6.62,"a0":5.82,"a1":7.42,"s":3.71,"s0":3.21,"s1":4.21},
{"e":18,"m":3.38,"m0":2.88,"m1":3.88,"a":5.99,"a0":5.19,"a1":6.79,"s":2.69,"s0":2.29,"s1":3.09},
{"e":19,"m":4.34,"m0":3.84,"m1":4.84,"a":7.36,"a0":6.56,"a1":8.16,"s":2.69,"s0":2.29,"s1":3.09},
{"e":20,"m":5.25,"m0":4.75,"m1":5.75,"a":7.31,"a0":6.51,"a1":8.11,"s":2.77,"s0":2.37,"s1":3.17},
{"e":21,"m":4.89,"m0":4.29,"m1":5.49,"a":7.91,"a0":6.91,"a1":8.91,"s":2.88,"s0":2.48,"s1":3.28},
{"e":22,"m":4.56,"m0":3.96,"m1":5.16,"a":7.45,"a0":6.45,"a1":8.45,"s":2.97,"s0":2.57,"s1":3.37},
{"e":23,"m":4.67,"m0":4.07,"m1":5.27,"a":7.77,"a0":6.77,"a1":8.77,"s":3.24,"s0":2.64,"s1":3.84},
{"e":24,"m":4.75,"m0":4.15,"m1":5.35,"a":8.74,"a0":7.74,"a1":9.74,"s":3.24,"s0":2.64,"s1":3.84},
{"e":25,"m":5.3,"m0":4.7,"m1":5.9,"a":7.23,"a0":6.23,"a1":8.23,"s":3.85,"s0":3.25,"s1":4.45},
{"e":26,"m":5.77,"m0":5.17,"m1":6.37,"a":9.56,"a0":8.56,"a1":10.56,"s":3.57,"s0":2.97,"s1":4.17},
{"e":27,"m":5.58,"m0":4.98,"m1":6.18,"a":8.79,"a0":7.79,"a1":9.79,"s":3.24,"s0":2.64,"s1":3.84},
{"e":28,"m":5.3,"m0":4.7,"m1":5.9,"a":8.79,"a0":7.79,"a1":9.79,"s":3.6,"s0":3.0,"s1":4.2},
{"e":29,"m":5.66,"m0":5.06,"m1":6.26,"a":8.93,"a0":7.93,"a1":9.93,"s":3.65,"s0":3.05,"s1":4.25},
{"e":30,"m":5.99,"m0":5.39,"m1":6.59,"a":9.15,"a0":8.15,"a1":10.15,"s":4.01,"s0":3.41,"s1":4.61},
{"e":31,"m":5.77,"m0":5.07,"m1":6.47,"a":9.84,"a0":8.54,"a1":11.14,"s":4.01,"s0":3.01,"s1":5.01},
{"e":32,"m":4.89,"m0":4.19,"m1":5.59,"a":9.42,"a0":8.12,"a1":10.72,"s":4.07,"s0":3.07,"s1":5.07},
{"e":33,"m":6.54,"m0":5.84,"m1":7.24,"a":9.97,"a0":8.67,"a1":11.27,"s":4.07,"s0":3.07,"s1":5.07},
{"e":34,"m":6.26,"m0":5.56,"m1":6.96,"a":10.25,"a0":8.95,"a1":11.55,"s":4.07,"s0":3.07,"s1":5.07},
{"e":35,"m":6.26,"m0":5.56,"m1":6.96,"a":10.93,"a0":9.63,"a1":12.23,"s":4.04,"s0":3.04,"s1":5.04},
{"e":36,"m":6.59,"m0":5.89,"m1":7.29,"a":10.52,"a0":9.22,"a1":11.82,"s":4.42,"s0":3.42,"s1":5.42},
{"e":37,"m":6.18,"m0":5.48,"m1":6.88,"a":11.68,"a0":10.38,"a1":12.98,"s":4.62,"s0":3.62,"s1":5.62},
{"e":38,"m":6.95,"m0":6.25,"m1":7.65,"a":11.57,"a0":10.27,"a1":12.87,"s":4.75,"s0":3.75,"s1":5.75},
{"e":39,"m":7.72,"m0":7.02,"m1":8.42,"a":11.07,"a0":9.77,"a1":12.37,"s":4.62,"s0":3.62,"s1":5.62},
{"e":40,"m":6.35,"m0":5.65,"m1":7.05,"a":10.66,"a0":9.36,"a1":11.96,"s":4.26,"s0":3.26,"s1":5.26},
{"e":41,"m":7.23,"m0":6.53,"m1":7.93,"a":11.35,"a0":10.05,"a1":12.65,"s":4.81,"s0":3.81,"s1":5.81},
{"e":42,"m":7.2,"m0":6.5,"m1":7.9,"a":11.76,"a0":10.46,"a1":13.06,"s":4.85,"s0":3.85,"s1":5.85},
{"e":43,"m":6.95,"m0":6.25,"m1":7.65,"a":11.8,"a0":10.5,"a1":13.1,"s":4.97,"s0":3.97,"s1":5.97},
{"e":44,"m":8.8,"m0":8.1,"m1":9.5,"a":11.82,"a0":10.52,"a1":13.12,"s":5.03,"s0":4.03,"s1":6.03},
{"e":45,"m":7.36,"m0":6.36,"m1":8.36,"a":11.81,"a0":10.21,"a1":13.41,"s":5.3,"s0":3.8,"s1":6.8},
{"e":46,"m":8.1,"m0":7.1,"m1":9.1,"a":12.77,"a0":11.17,"a1":14.37,"s":5.58,"s0":3.78,"s1":7.38},
{"e":47,"m":7.72,"m0":6.72,"m1":8.72,"a":12.03,"a0":10.43,"a1":13.63,"s":5.36,"s0":3.56,"s1":7.16},
{"e":48,"m":8.6,"m0":7.6,"m1":9.6,"a":12.66,"a0":11.06,"a1":14.26,"s":5.8,"s0":4.0,"s1":7.6},
{"e":49,"m":8.74,"m0":7.74,"m1":9.74,"a":12.8,"a0":11.2,"a1":14.4,"s":5.8,"s0":4.0,"s1":7.6},
{"e":50,"m":7.91,"m0":6.91,"m1":8.91,"a":12.31,"a0":10.71,"a1":13.91,"s":5.74,"s0":3.74,"s1":7.74},
{"e":51,"m":8.46,"m0":7.46,"m1":9.46,"a":13.27,"a0":11.67,"a1":14.87,"s":5.99,"s0":3.99,"s1":7.99},
{"e":52,"m":9.2,"m0":8.2,"m1":10.2,"a":13.36,"a0":11.76,"a1":14.96,"s":6.29,"s0":4.29,"s1":8.29},
{"e":53,"m":8.19,"m0":7.19,"m1":9.19,"a":12.8,"a0":11.2,"a1":14.4,"s":5.93,"s0":3.93,"s1":7.93},
{"e":54,"m":8.74,"m0":7.74,"m1":9.74,"a":13.13,"a0":11.53,"a1":14.73,"s":6.26,"s0":4.26,"s1":8.26},
{"e":55,"m":8.93,"m0":7.93,"m1":9.93,"a":13.87,"a0":12.27,"a1":15.47,"s":6.73,"s0":4.43,"s1":9.03},
{"e":56,"m":9.42,"m0":8.42,"m1":10.42,"a":13.49,"a0":11.89,"a1":15.09,"s":6.54,"s0":4.24,"s1":8.84},
{"e":57,"m":8.65,"m0":7.65,"m1":9.65,"a":13.6,"a0":12.0,"a1":15.2,"s":6.54,"s0":4.24,"s1":8.84},
{"e":58,"m":9.01,"m0":8.01,"m1":10.01,"a":13.68,"a0":12.08,"a1":15.28,"s":6.57,"s0":4.27,"s1":8.87},
{"e":59,"m":9.34,"m0":8.34,"m1":10.34,"a":14.23,"a0":12.63,"a1":15.83,"s":6.95,"s0":4.65,"s1":9.25},
{"e":60,"m":9.15,"m0":8.15,"m1":10.15,"a":14.29,"a0":12.69,"a1":15.89,"s":6.73,"s0":4.23,"s1":9.23},
{"e":61,"m":9.09,"m0":7.89,"m1":10.29,"a":13.96,"a0":12.06,"a1":15.86,"s":6.46,"s0":3.96,"s1":8.96},
{"e":62,"m":9.29,"m0":8.09,"m1":10.49,"a":14.31,"a0":12.41,"a1":16.21,"s":6.84,"s0":4.34,"s1":9.34},
{"e":63,"m":9.48,"m0":8.28,"m1":10.68,"a":14.64,"a0":12.74,"a1":16.54,"s":7.36,"s0":4.86,"s1":9.86},
{"e":64,"m":9.42,"m0":8.22,"m1":10.62,"a":14.51,"a0":12.61,"a1":16.41,"s":7.42,"s0":4.92,"s1":9.92},
{"e":65,"m":10.19,"m0":8.99,"m1":11.39,"a":14.78,"a0":12.88,"a1":16.68,"s":7.45,"s0":4.75,"s1":10.15},
{"e":66,"m":9.75,"m0":8.55,"m1":10.95,"a":14.51,"a0":12.61,"a1":16.41,"s":7.91,"s0":5.21,"s1":10.61},
{"e":67,"m":9.84,"m0":8.64,"m1":11.04,"a":14.29,"a0":12.39,"a1":16.19,"s":7.28,"s0":4.58,"s1":9.98},
{"e":68,"m":10.11,"m0":8.91,"m1":11.31,"a":15.53,"a0":13.63,"a1":17.43,"s":7.77,"s0":5.07,"s1":10.47},
{"e":69,"m":9.48,"m0":8.28,"m1":10.68,"a":14.78,"a0":12.88,"a1":16.68,"s":7.34,"s0":4.64,"s1":10.04},
{"e":70,"m":10.25,"m0":9.05,"m1":11.45,"a":14.84,"a0":12.94,"a1":16.74,"s":7.55,"s0":4.85,"s1":10.25},
{"e":71,"m":9.42,"m0":8.22,"m1":10.62,"a":15.06,"a0":13.16,"a1":16.96,"s":7.61,"s0":4.91,"s1":10.31},
{"e":72,"m":10.33,"m0":9.13,"m1":11.53,"a":15.33,"a0":13.43,"a1":17.23,"s":7.83,"s0":5.13,"s1":10.53},
{"e":73,"m":10.19,"m0":8.99,"m1":11.39,"a":14.97,"a0":13.07,"a1":16.87,"s":8.05,"s0":5.35,"s1":10.75},
{"e":74,"m":10.03,"m0":8.83,"m1":11.23,"a":15.47,"a0":13.57,"a1":17.37,"s":8.1,"s0":5.4,"s1":10.8},
{"e":75,"m":10.58,"m0":9.38,"m1":11.78,"a":15.47,"a0":13.57,"a1":17.37,"s":8.05,"s0":5.35,"s1":10.75},
{"e":76,"m":11.02,"m0":9.82,"m1":12.22,"a":16.29,"a0":14.39,"a1":18.19,"s":8.24,"s0":5.54,"s1":10.94},
{"e":77,"m":10.66,"m0":9.46,"m1":11.86,"a":15.74,"a0":13.84,"a1":17.64,"s":8.24,"s0":5.54,"s1":10.94},
{"e":78,"m":9.84,"m0":8.64,"m1":11.04,"a":15.53,"a0":13.63,"a1":17.43,"s":8.1,"s0":5.4,"s1":10.8},
{"e":79,"m":11.07,"m0":9.87,"m1":12.27,"a":15.33,"a0":13.43,"a1":17.23,"s":8.46,"s0":5.76,"s1":11.16},
{"e":80,"m":12.23,"m0":11.03,"m1":13.43,"a":16.15,"a0":14.25,"a1":18.05,"s":8.87,"s0":6.17,"s1":11.57},
{"e":81,"m":10.25,"m0":9.05,"m1":11.45,"a":15.6,"a0":13.7,"a1":17.5,"s":8.13,"s0":5.43,"s1":10.83},
{"e":82,"m":11.07,"m0":9.87,"m1":12.27,"a":16.15,"a0":14.25,"a1":18.05,"s":8.6,"s0":5.9,"s1":11.3},
{"e":83,"m":11.48,"m0":10.28,"m1":12.68,"a":15.69,"a0":13.79,"a1":17.59,"s":8.71,"s0":6.01,"s1":11.41},
{"e":84,"m":11.13,"m0":9.93,"m1":12.33,"a":16.43,"a0":14.23,"a1":18.63,"s":9.15,"s0":6.45,"s1":11.85},
{"e":85,"m":11.62,"m0":10.42,"m1":12.82,"a":16.43,"a0":14.23,"a1":18.63,"s":9.2,"s0":6.5,"s1":11.9},
{"e":86,"m":12.12,"m0":10.92,"m1":13.32,"a":15.96,"a0":13.96,"a1":17.96,"s":9.01,"s0":6.31,"s1":11.71},
{"e":87,"m":11.35,"m0":10.15,"m1":12.55,"a":16.1,"a0":14.1,"a1":18.1,"s":8.74,"s0":6.04,"s1":11.44},
{"e":88,"m":11.35,"m0":10.15,"m1":12.55,"a":16.18,"a0":14.18,"a1":18.18,"s":9.29,"s0":6.59,"s1":11.99},
{"e":89,"m":11.57,"m0":10.37,"m1":12.77,"a":16.13,"a0":14.13,"a1":18.13,"s":8.82,"s0":6.12,"s1":11.52}
]
},
"spacing":-5,
"resolve":{"scale":{"color":"independent"},"legend":{"color":"independent"}},
"vconcat":[
{"hconcat":[
{"width":469,"height":242,"title":"ImageNet1K -> ImageNet-V2 (Optimizer Comparison)","data":{"name":"d1"},
"encoding":{"x":{"field":"e","type":"quantitative","title":"Epoch","scale":{"domain":[-4.45,93.45],"nice":false,"zero":false},"axis":{"values":[0,20,40,60,80]}}},
"layer":[
{"mark":{"type":"area","color":"#1f77b4"},"encoding":{"y":{"field":"m0","type":"quantitative","title":"ID Training Accuracy","scale":{"domain":[-2.6,88],"nice":false,"zero":false},"axis":{"values":[0,20,40,60,80]}},"y2":{"field":"m1"}}},
{"mark":{"type":"area","color":"#ff7f0e"},"encoding":{"y":{"field":"a0","type":"quantitative","title":"ID Training Accuracy","scale":{"domain":[-2.6,88],"nice":false,"zero":false},"axis":{"values":[0,20,40,60,80]}},"y2":{"field":"a1"}}},
{"mark":{"type":"area","color":"#2ca02c"},"encoding":{"y":{"field":"s0","type":"quantitative","title":"ID Training Accuracy","scale":{"domain":[-2.6,88],"nice":false,"zero":false},"axis":{"values":[0,20,40,60,80]}},"y2":{"field":"s1"}}},
{"mark":"line","encoding":{"y":{"field":"m","type":"quantitative","title":"ID Training Accuracy","scale":{"domain":[-2.6,88],"nice":false,"zero":false},"axis":{"values":[0,20,40,60,80]}},"color":{"datum":"momentum_sgd","type":"nominal","scale":{"domain":["momentum_sgd","adam","sam"],"range":["#1f77b4","#ff7f0e","#2ca02c"]},"legend":{"orient":"bottom-right","title":null}}}},
{"mark":"line","encoding":{"y":{"field":"a","type":"quantitative","title":"ID Training Accuracy","scale":{"domain":[-2.6,88],"nice":false,"zero":false},"axis":{"values":[0,20,40,60,80]}},"color":{"datum":"adam","type":"nominal","scale":{"domain":["momentum_sgd","adam","sam"],"range":["#1f77b4","#ff7f0e","#2ca02c"]},"legend":{"orient":"bottom-right","title":null}}}},
{"mark":"line","encoding":{"y":{"field":"s","type":"quantitative","title":"ID Training Accuracy","scale":{"domain":[-2.6,88],"nice":false,"zero":false},"axis":{"values":[0,20,40,60,80]}},"color":{"datum":"sam","type":"nominal","scale":{"domain":["momentum_sgd","adam","sam"],"range":["#1f77b4","#ff7f0e","#2ca02c"]},"legend":{"orient":"bottom-right","title":null}}}}
]},
{"width":463,"height":242,"title":"ImageNet1K -> ImageNet-V2 (Optimizer Comparison)","data":{"name":"d2"},
"encoding":{"x":{"field":"e","type":"quantitative","title":"Epoch","scale":{"domain":[-4.45,93.45],"nice":false,"zero":false},"axis":{"values":[0,20,40,60,80]}}},
"layer":[
{"mark":{"type":"area","color":"#1f77b4"},"encoding":{"y":{"field":"m0","type":"quantitative","title":"ID Training ECE","scale":{"domain":[-0.07,5.26],"nice":false,"zero":false},"axis":{"values":[0,1,2,3,4,5]}},"y2":{"field":"m1"}}},
{"mark":{"type":"area","color":"#ff7f0e"},"encoding":{"y":{"field":"a0","type":"quantitative","title":"ID Training ECE","scale":{"domain":[-0.07,5.26],"nice":false,"zero":false},"axis":{"values":[0,1,2,3,4,5]}},"y2":{"field":"a1"}}},
{"mark":{"type":"area","color":"#2ca02c"},"encoding":{"y":{"field":"s0","type":"quantitative","title":"ID Training ECE","scale":{"domain":[-0.07,5.26],"nice":false,"zero":false},"axis":{"values":[0,1,2,3,4,5]}},"y2":{"field":"s1"}}},
{"mark":"line","encoding":{"y":{"field":"m","type":"quantitative","title":"ID Training ECE","scale":{"domain":[-0.07,5.26],"nice":false,"zero":false},"axis":{"values":[0,1,2,3,4,5]}},"color":{"datum":"momentum_sgd","type":"nominal","scale":{"domain":["momentum_sgd","adam","sam"],"range":["#1f77b4","#ff7f0e","#2ca02c"]},"legend":{"orient":"top-left","title":null}}}},
{"mark":"line","encoding":{"y":{"field":"a","type":"quantitative","title":"ID Training ECE","scale":{"domain":[-0.07,5.26],"nice":false,"zero":false},"axis":{"values":[0,1,2,3,4,5]}},"color":{"datum":"adam","type":"nominal","scale":{"domain":["momentum_sgd","adam","sam"],"range":["#1f77b4","#ff7f0e","#2ca02c"]},"legend":{"orient":"top-left","title":null}}}},
{"mark":"line","encoding":{"y":{"field":"s","type":"quantitative","title":"ID Training ECE","scale":{"domain":[-0.07,5.26],"nice":false,"zero":false},"axis":{"values":[0,1,2,3,4,5]}},"color":{"datum":"sam","type":"nominal","scale":{"domain":["momentum_sgd","adam","sam"],"range":["#1f77b4","#ff7f0e","#2ca02c"]},"legend":{"orient":"top-left","title":null}}}}
]}
],"spacing":46.3,"bounds":"flush","resolve":{"scale":{"color":"independent"},"legend":{"color":"independent"}}},
{"hconcat":[
{"width":462,"height":242.5,"title":"ImageNet1K -> ImageNet-V2 (Optimizer Comparison)","data":{"name":"d3"},
"encoding":{"x":{"field":"e","type":"quantitative","title":"Epoch","scale":{"domain":[-4.45,93.45],"nice":false,"zero":false},"axis":{"values":[0,20,40,60,80]}}},
"layer":[
{"mark":{"type":"area","color":"#1f77b4"},"encoding":{"y":{"field":"m0","type":"quantitative","title":"ID Validation Accuracy","scale":{"domain":[0.8,66.4],"nice":false,"zero":false},"axis":{"values":[10,20,30,40,50,60]}},"y2":{"field":"m1"}}},
{"mark":{"type":"area","color":"#ff7f0e"},"encoding":{"y":{"field":"a0","type":"quantitative","title":"ID Validation Accuracy","scale":{"domain":[0.8,66.4],"nice":false,"zero":false},"axis":{"values":[10,20,30,40,50,60]}},"y2":{"field":"a1"}}},
{"mark":{"type":"area","color":"#2ca02c"},"encoding":{"y":{"field":"s0","type":"quantitative","title":"ID Validation Accuracy","scale":{"domain":[0.8,66.4],"nice":false,"zero":false},"axis":{"values":[10,20,30,40,50,60]}},"y2":{"field":"s1"}}},
{"mark":"line","encoding":{"y":{"field":"m","type":"quantitative","title":"ID Validation Accuracy","scale":{"domain":[0.8,66.4],"nice":false,"zero":false},"axis":{"values":[10,20,30,40,50,60]}},"color":{"datum":"momentum_sgd","type":"nominal","scale":{"domain":["momentum_sgd","adam","sam"],"range":["#1f77b4","#ff7f0e","#2ca02c"]},"legend":{"orient":"bottom-right","title":null}}}},
{"mark":"line","encoding":{"y":{"field":"a","type":"quantitative","title":"ID Validation Accuracy","scale":{"domain":[0.8,66.4],"nice":false,"zero":false},"axis":{"values":[10,20,30,40,50,60]}},"color":{"datum":"adam","type":"nominal","scale":{"domain":["momentum_sgd","adam","sam"],"range":["#1f77b4","#ff7f0e","#2ca02c"]},"legend":{"orient":"bottom-right","title":null}}}},
{"mark":"line","encoding":{"y":{"field":"s","type":"quantitative","title":"ID Validation Accuracy","scale":{"domain":[0.8,66.4],"nice":false,"zero":false},"axis":{"values":[10,20,30,40,50,60]}},"color":{"datum":"sam","type":"nominal","scale":{"domain":["momentum_sgd","adam","sam"],"range":["#1f77b4","#ff7f0e","#2ca02c"]},"legend":{"orient":"bottom-right","title":null}}}}
]},
{"width":466.7,"height":242.5,"title":"ImageNet1K -> ImageNet-V2 (Optimizer Comparison)","data":{"name":"d4"},
"encoding":{"x":{"field":"e","type":"quantitative","title":"Epoch","scale":{"domain":[-4.45,93.45],"nice":false,"zero":false},"axis":{"values":[0,20,40,60,80]}}},
"layer":[
{"mark":{"type":"area","color":"#1f77b4"},"encoding":{"y":{"field":"m0","type":"quantitative","title":"ID Validation ECE","scale":{"domain":[-0.5,14.33],"nice":false,"zero":false},"axis":{"values":[0,2,4,6,8,10,12,14]}},"y2":{"field":"m1"}}},
{"mark":{"type":"area","color":"#ff7f0e"},"encoding":{"y":{"field":"a0","type":"quantitative","title":"ID Validation ECE","scale":{"domain":[-0.5,14.33],"nice":false,"zero":false},"axis":{"values":[0,2,4,6,8,10,12,14]}},"y2":{"field":"a1"}}},
{"mark":{"type":"area","color":"#2ca02c"},"encoding":{"y":{"field":"s0","type":"quantitative","title":"ID Validation ECE","scale":{"domain":[-0.5,14.33],"nice":false,"zero":false},"axis":{"values":[0,2,4,6,8,10,12,14]}},"y2":{"field":"s1"}}},
{"mark":"line","encoding":{"y":{"field":"m","type":"quantitative","title":"ID Validation ECE","scale":{"domain":[-0.5,14.33],"nice":false,"zero":false},"axis":{"values":[0,2,4,6,8,10,12,14]}},"color":{"datum":"momentum_sgd","type":"nominal","scale":{"domain":["momentum_sgd","adam","sam"],"range":["#1f77b4","#ff7f0e","#2ca02c"]},"legend":{"orient":"top-left","title":null}}}},
{"mark":"line","encoding":{"y":{"field":"a","type":"quantitative","title":"ID Validation ECE","scale":{"domain":[-0.5,14.33],"nice":false,"zero":false},"axis":{"values":[0,2,4,6,8,10,12,14]}},"color":{"datum":"adam","type":"nominal","scale":{"domain":["momentum_sgd","adam","sam"],"range":["#1f77b4","#ff7f0e","#2ca02c"]},"legend":{"orient":"top-left","title":null}}}},
{"mark":"line","encoding":{"y":{"field":"s","type":"quantitative","title":"ID Validation ECE","scale":{"domain":[-0.5,14.33],"nice":false,"zero":false},"axis":{"values":[0,2,4,6,8,10,12,14]}},"color":{"datum":"sam","type":"nominal","scale":{"domain":["momentum_sgd","adam","sam"],"range":["#1f77b4","#ff7f0e","#2ca02c"]},"legend":{"orient":"top-left","title":null}}}}
]}
],"spacing":59.3,"bounds":"flush","resolve":{"scale":{"color":"independent"},"legend":{"color":"independent"}}},
{"hconcat":[
{"width":459,"height":235.7,"title":"ImageNet1K -> ImageNet-V2 (Optimizer Comparison)","data":{"name":"d5"},
"encoding":{"x":{"field":"e","type":"quantitative","title":"Epoch","scale":{"domain":[-4.45,93.45],"nice":false,"zero":false},"axis":{"values":[0,20,40,60,80]}}},
"layer":[
{"mark":{"type":"area","color":"#1f77b4"},"encoding":{"y":{"field":"m0","type":"quantitative","title":"OOD Test Accuracy","scale":{"domain":[1.6,66.2],"nice":false,"zero":false},"axis":{"values":[10,20,30,40,50,60]}},"y2":{"field":"m1"}}},
{"mark":{"type":"area","color":"#ff7f0e"},"encoding":{"y":{"field":"a0","type":"quantitative","title":"OOD Test Accuracy","scale":{"domain":[1.6,66.2],"nice":false,"zero":false},"axis":{"values":[10,20,30,40,50,60]}},"y2":{"field":"a1"}}},
{"mark":{"type":"area","color":"#2ca02c"},"encoding":{"y":{"field":"s0","type":"quantitative","title":"OOD Test Accuracy","scale":{"domain":[1.6,66.2],"nice":false,"zero":false},"axis":{"values":[10,20,30,40,50,60]}},"y2":{"field":"s1"}}},
{"mark":"line","encoding":{"y":{"field":"m","type":"quantitative","title":"OOD Test Accuracy","scale":{"domain":[1.6,66.2],"nice":false,"zero":false},"axis":{"values":[10,20,30,40,50,60]}},"color":{"datum":"momentum_sgd","type":"nominal","scale":{"domain":["momentum_sgd","adam","sam"],"range":["#1f77b4","#ff7f0e","#2ca02c"]},"legend":{"orient":"bottom-right","title":null}}}},
{"mark":"line","encoding":{"y":{"field":"a","type":"quantitative","title":"OOD Test Accuracy","scale":{"domain":[1.6,66.2],"nice":false,"zero":false},"axis":{"values":[10,20,30,40,50,60]}},"color":{"datum":"adam","type":"nominal","scale":{"domain":["momentum_sgd","adam","sam"],"range":["#1f77b4","#ff7f0e","#2ca02c"]},"legend":{"orient":"bottom-right","title":null}}}},
{"mark":"line","encoding":{"y":{"field":"s","type":"quantitative","title":"OOD Test Accuracy","scale":{"domain":[1.6,66.2],"nice":false,"zero":false},"axis":{"values":[10,20,30,40,50,60]}},"color":{"datum":"sam","type":"nominal","scale":{"domain":["momentum_sgd","adam","sam"],"range":["#1f77b4","#ff7f0e","#2ca02c"]},"legend":{"orient":"bottom-right","title":null}}}}
]},
{"width":449,"height":235.7,"title":"ImageNet1K -> ImageNet-V2 (Optimizer Comparison)","data":{"name":"d6"},
"encoding":{"x":{"field":"e","type":"quantitative","title":"Epoch","scale":{"domain":[-4.45,93.45],"nice":false,"zero":false},"axis":{"values":[0,20,40,60,80]}}},
"layer":[
{"mark":{"type":"area","color":"#1f77b4"},"encoding":{"y":{"field":"m0","type":"quantitative","title":"OOD Test ECE","scale":{"domain":[0.27,19.6],"nice":false,"zero":false},"axis":{"values":[2.5,5,7.5,10,12.5,15,17.5],"format":".1f"}},"y2":{"field":"m1"}}},
{"mark":{"type":"area","color":"#ff7f0e"},"encoding":{"y":{"field":"a0","type":"quantitative","title":"OOD Test ECE","scale":{"domain":[0.27,19.6],"nice":false,"zero":false},"axis":{"values":[2.5,5,7.5,10,12.5,15,17.5],"format":".1f"}},"y2":{"field":"a1"}}},
{"mark":{"type":"area","color":"#2ca02c"},"encoding":{"y":{"field":"s0","type":"quantitative","title":"OOD Test ECE","scale":{"domain":[0.27,19.6],"nice":false,"zero":false},"axis":{"values":[2.5,5,7.5,10,12.5,15,17.5],"format":".1f"}},"y2":{"field":"s1"}}},
{"mark":"line","encoding":{"y":{"field":"m","type":"quantitative","title":"OOD Test ECE","scale":{"domain":[0.27,19.6],"nice":false,"zero":false},"axis":{"values":[2.5,5,7.5,10,12.5,15,17.5],"format":".1f"}},"color":{"datum":"momentum_sgd","type":"nominal","scale":{"domain":["momentum_sgd","adam","sam"],"range":["#1f77b4","#ff7f0e","#2ca02c"]},"legend":{"orient":"top-left","title":null}}}},
{"mark":"line","encoding":{"y":{"field":"a","type":"quantitative","title":"OOD Test ECE","scale":{"domain":[0.27,19.6],"nice":false,"zero":false},"axis":{"values":[2.5,5,7.5,10,12.5,15,17.5],"format":".1f"}},"color":{"datum":"adam","type":"nominal","scale":{"domain":["momentum_sgd","adam","sam"],"range":["#1f77b4","#ff7f0e","#2ca02c"]},"legend":{"orient":"top-left","title":null}}}},
{"mark":"line","encoding":{"y":{"field":"s","type":"quantitative","title":"OOD Test ECE","scale":{"domain":[0.27,19.6],"nice":false,"zero":false},"axis":{"values":[2.5,5,7.5,10,12.5,15,17.5],"format":".1f"}},"color":{"datum":"sam","type":"nominal","scale":{"domain":["momentum_sgd","adam","sam"],"range":["#1f77b4","#ff7f0e","#2ca02c"]},"legend":{"orient":"top-left","title":null}}}}
]}
],"spacing":72.6,"bounds":"flush","resolve":{"scale":{"color":"independent"},"legend":{"color":"independent"}}}
]
}
